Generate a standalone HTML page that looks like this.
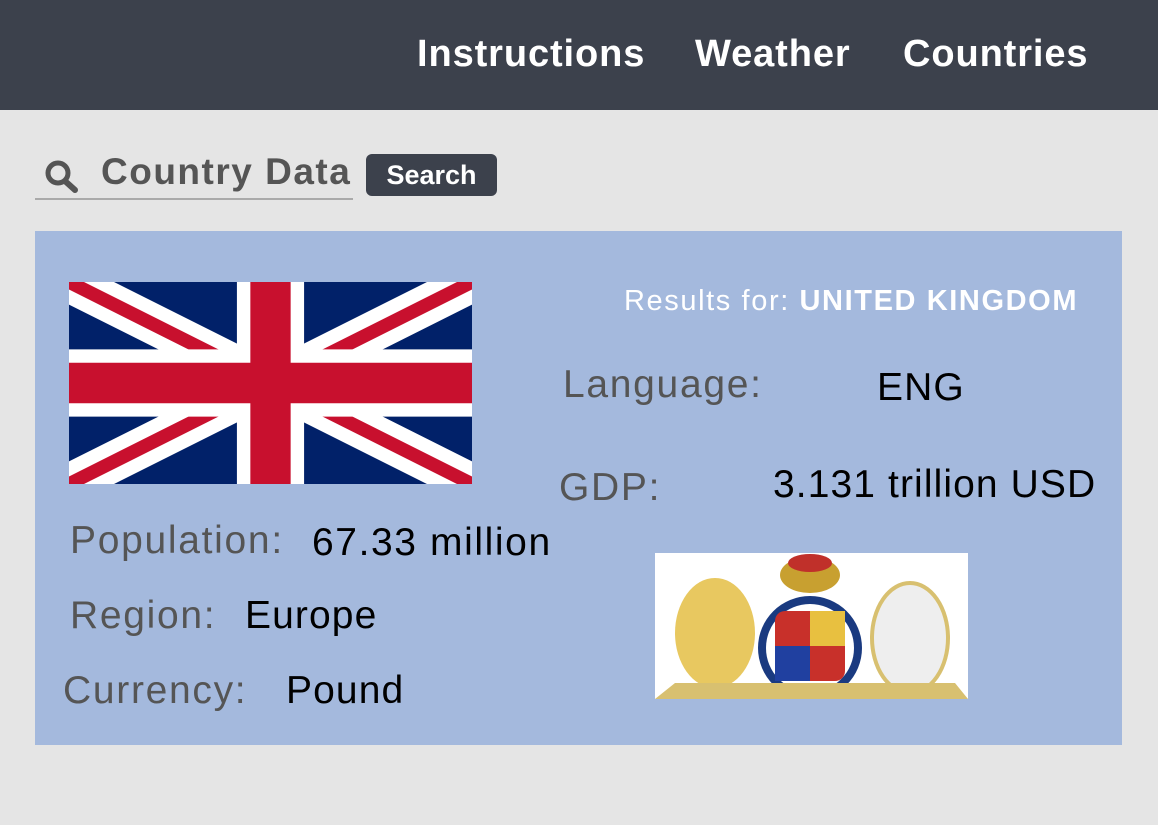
<!DOCTYPE html>
<html><head><meta charset="utf-8"><style>
body{margin:0;width:1158px;height:825px;background:#e5e5e5;font-family:"Liberation Sans",sans-serif;position:relative;overflow:hidden}
.a{position:absolute;white-space:nowrap}
.nav{top:0;left:0;width:1158px;height:110px;background:#3c414c}
.n{color:#fff;font-weight:bold;font-size:38px;top:33px;letter-spacing:0.9px}
.lbl{color:#555;font-size:39px;letter-spacing:1.7px}
.val{color:#000;font-size:39px;letter-spacing:1.1px}
</style></head><body>
<div class="a nav"></div>
<div class="a n" style="left:417px">Instructions</div>
<div class="a n" style="left:695px">Weather</div>
<div class="a n" style="left:903px">Countries</div>

<svg class="a" style="left:44px;top:158px" width="36" height="36"><circle cx="14" cy="15" r="10" fill="none" stroke="#555" stroke-width="5"/><line x1="21" y1="23" x2="31" y2="32" stroke="#555" stroke-width="6" stroke-linecap="round"/></svg>
<div class="a" style="left:101px;top:151px;font-size:37px;font-weight:bold;color:#555;letter-spacing:1.5px">Country Data</div>
<div class="a" style="left:35px;top:198px;width:318px;height:2px;background:#aaa"></div>
<div class="a" style="left:366px;top:154px;width:131px;height:42px;background:#3c414c;border-radius:6px;color:#fff;font-weight:bold;font-size:27px;text-align:center;line-height:42px">Search</div>

<div class="a" style="left:35px;top:231px;width:1087px;height:514px;background:#a4b9dd"></div>

<svg class="a" style="left:69px;top:282px" width="403" height="202" viewBox="0 0 60 30" preserveAspectRatio="none">
<rect width="60" height="30" fill="#012169"/>
<path d="M0,0 L60,30 M60,0 L0,30" stroke="#fff" stroke-width="6"/>
<path d="M0,0 L60,30 M60,0 L0,30" stroke="#C8102E" stroke-width="2"/>
<path d="M30,0 v30 M0,15 h60" stroke="#fff" stroke-width="10"/>
<path d="M30,0 v30 M0,15 h60" stroke="#C8102E" stroke-width="6"/>
</svg>

<div class="a" style="left:624px;top:285px;font-size:29px;color:#fff;letter-spacing:1.6px">Results for: <b>UNITED KINGDOM</b></div>
<div class="a lbl" style="left:563px;top:363px">Language:</div>
<div class="a val" style="left:877px;top:366px">ENG</div>
<div class="a lbl" style="left:559px;top:466px">GDP:</div>
<div class="a val" style="left:773px;top:463px">3.131 trillion USD</div>
<div class="a lbl" style="left:70px;top:519px">Population:</div>
<div class="a val" style="left:312px;top:521px;letter-spacing:1.6px">67.33 million</div>
<div class="a lbl" style="left:70px;top:594px">Region:</div>
<div class="a val" style="left:245px;top:594px">Europe</div>
<div class="a lbl" style="left:63px;top:669px">Currency:</div>
<div class="a val" style="left:286px;top:669px">Pound</div>

<svg class="a" style="left:655px;top:553px" width="313" height="146">
<rect width="313" height="146" fill="#fff"/>
<ellipse cx="155" cy="22" rx="30" ry="18" fill="#c8a030"/>
<ellipse cx="155" cy="10" rx="22" ry="9" fill="#c0302a"/>
<ellipse cx="60" cy="80" rx="40" ry="55" fill="#e8c860"/>
<ellipse cx="255" cy="85" rx="38" ry="55" fill="#eee" stroke="#d8c070" stroke-width="4"/>
<circle cx="155" cy="95" r="52" fill="#1a3a80"/>
<circle cx="155" cy="95" r="44" fill="#fff"/>
<rect x="120" y="58" width="70" height="70" rx="10" fill="#c8302a"/>
<rect x="155" y="58" width="35" height="35" fill="#e8c040"/>
<rect x="120" y="93" width="35" height="35" fill="#2040a0"/>
<path d="M0,146 L313,146 L300,130 L20,130 Z" fill="#d8c070"/>
</svg>
</body></html>
